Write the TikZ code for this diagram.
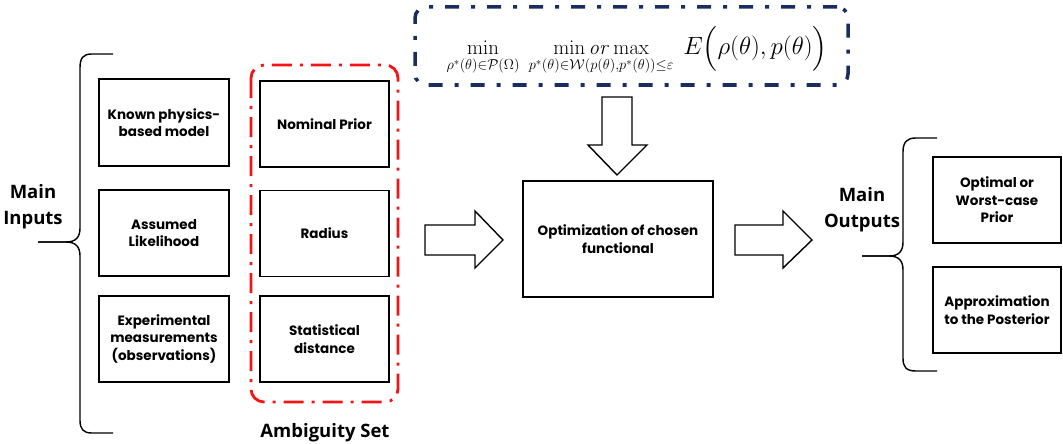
\documentclass[tikz,border=0pt]{standalone}
\usepackage{amsmath}
\usepackage[no-math]{fontspec}
\setmainfont{Poppins}
\newfontfamily\labelfont{Open Sans}
\usepackage{tikz}

\definecolor{ambred}{RGB}{245,20,20}
\definecolor{formblue}{RGB}{25,45,95}

\begin{document}
\begin{tikzpicture}[x=1pt,y=-1pt,
  box/.style={draw,line width=1.4pt,align=center,inner sep=2pt,
    font=\fontsize{13.5}{17.5}\selectfont\bfseries},
  label/.style={align=center,font=\labelfont\fontsize{18.5}{26}\selectfont\bfseries},
  blockarrow/.style={draw,line width=1.4pt,line join=miter}]

\useasboundingbox (0,0) rectangle (1063,444);

% inputs
\node[box,minimum width=130,minimum height=87] (phys) at (164,122.5){Known physics-\\based model};
\node[box,minimum width=130,minimum height=86] (like) at (164,233){Assumed\\Likelihood};
\node[box,minimum width=130,minimum height=86] (meas) at (164,339){Experimental\\measurements\\(observations)};

% ambiguity set
\node[box,minimum width=129,minimum height=86] (prior) at (324.5,124){Nominal Prior};
\node[box,minimum width=129,minimum height=86] (radius) at (324.5,233.5){Radius};
\node[box,minimum width=129,minimum height=86] (dist) at (324.5,339){Statistical\\distance};
\draw[ambred,line width=2.8pt,rounded corners=13,dash pattern=on 20pt off 8pt on 3pt off 8pt]
  (251,65) rectangle (398,402);
\node[label] (amb) at (325,433){Ambiguity Set};

\node[label] (inputs) at (33,207){Main\\Inputs};
\draw[line width=1.4pt] (113,54) -- (92,54) .. controls (83,54) and (80,58) .. (80,68) -- (80,228)
  .. controls (80,237) and (76,242) .. (66,242) -- (38,242);
\draw[line width=1.4pt] (38,242) -- (66,242) .. controls (76,242) and (80,247) .. (80,256) -- (80,420)
  .. controls (80,429) and (83,433) .. (92,433) -- (113,433);

% objective
\node[draw=formblue,line width=3.5pt,rounded corners=11,dash pattern=on 14pt off 12pt on 4pt off 12pt,
  minimum width=433,minimum height=78] (form) at (631.5,46){};
\node[anchor=base] (obj) at (637,55){\fontsize{22.5}{26}\selectfont
  $\displaystyle\min_{\rho^*(\theta)\in\mathcal{P}(\Omega)}\;
  \mathop{\min\mathit{or}\max}\limits_{p^*(\theta)\in\mathcal{W}\left(p(\theta),p^*(\theta)\right)\le\varepsilon}$\,
  {\fontsize{26}{30}\selectfont$E\Big(\rho(\theta),p(\theta)\Big)$}};

\node[box,minimum width=190,minimum height=116] (opt) at (618,239){Optimization of chosen\\functional};

\draw[blockarrow] (602,97) -- (632,97) -- (632,145) -- (647,145) -- (617,175) -- (588,145) -- (602,145) -- cycle;
\draw[blockarrow] (425,225) -- (475,225) -- (475,211) -- (503,240) -- (475,268) -- (475,255) -- (425,255) -- cycle;
\draw[blockarrow] (735,225) -- (783,225) -- (783,211) -- (812,240) -- (783,268) -- (783,255) -- (735,255) -- cycle;

% outputs
\node[label] (outputs) at (862,210){Main\\Outputs};
\draw[line width=1.4pt] (937,138) -- (916,138) .. controls (907,138) and (903,142) .. (903,152) -- (903,242)
  .. controls (903,251) and (899,256) .. (889,256) -- (862,256);
\draw[line width=1.4pt] (862,256) -- (889,256) .. controls (899,256) and (903,261) .. (903,270) -- (903,358)
  .. controls (903,367) and (906,371) .. (916,371) -- (937,371);
\node[box,minimum width=128,minimum height=86] (best) at (997,200){Optimal or\\Worst-case\\Prior};
\node[box,minimum width=128,minimum height=86] (post) at (997,310){Approximation\\to the Posterior};

\end{tikzpicture}
\end{document}
